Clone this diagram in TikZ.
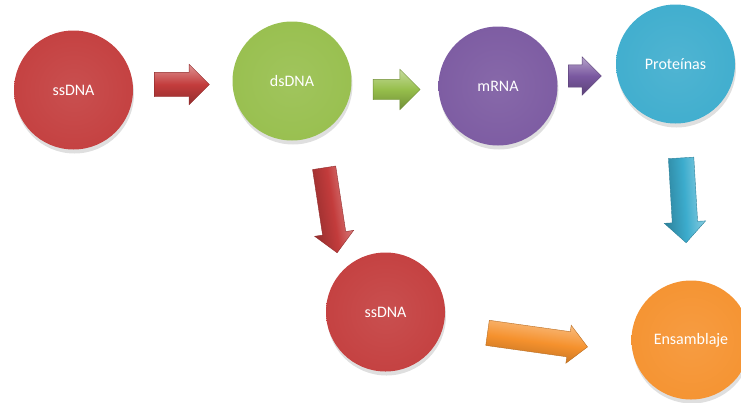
\documentclass[tikz,border=0pt]{standalone}
\usepackage{fontspec}
\setmainfont{Carlito}
\usetikzlibrary{shapes.arrows, shadows, calc}

\definecolor{dnared}{RGB}{195,60,60}
\definecolor{dnagreen}{RGB}{150,190,75}
\definecolor{rnapurple}{RGB}{122,88,160}
\definecolor{protcyan}{RGB}{60,172,205}
\definecolor{ensorange}{RGB}{245,145,45}
\colorlet{ballcol}{dnared}

% flat ball with a darker rim
\pgfdeclareradialshading[ballcol]{ball}{\pgfpoint{0bp}{0bp}}{%
  color(0bp)=(ballcol!90!white); color(25bp)=(ballcol!97!white);
  color(41bp)=(ballcol); color(47bp)=(ballcol!82!black);
  color(50bp)=(ballcol!55!black)}

\begin{document}
\begin{tikzpicture}[
            x = 1pt, y = -1pt, % pixel grid of the sketch
            ball/.style = {
                circle,
                inner sep = 0pt,
                minimum size = 119pt,
                shading = ball,
                text = white,
                font = \fontsize{16}{19}\selectfont,
                drop shadow = {shadow xshift=1pt, shadow yshift=-4pt, opacity=.25}
            },
            ballcolour/.style = {/utils/exec = {\colorlet{ballcol}{#1}}},
            blockarrow/.style = {
                single arrow,
                single arrow head indent = 0pt,
                single arrow head extend = 8pt,
                inner xsep = 0pt,
                inner ysep = 11.5pt,
                top color = #1!55!white,
                bottom color = #1!75!black,
                middle color = #1,
                draw = #1!75!black,
                thin
            }
        ]

        \useasboundingbox (0,0) rectangle (741,402);

        \node[ball, ballcolour=dnared] (ssdna) at (73.5,90) {ssDNA};
        \node[ball, ballcolour=dnagreen] (dsdna) at (292,81) {dsDNA};
        \node[ball, ballcolour=rnapurple] (mrna) at (498,86) {mRNA};
        \node[ball, ballcolour=protcyan] (prot) at (675.5,64) {Proteínas};
        \node[ball, ballcolour=dnared] (ssdnab) at (385.5,312) {ssDNA};
        \node[ball, ballcolour=ensorange] (ens) at (691,340) {Ensamblaje};

        \node[blockarrow=dnared, minimum height=55pt, inner ysep=12pt]
            (a) at ($(ssdna)!.5!(dsdna)+(-7,-1)$) {};
        \node[blockarrow=dnagreen, minimum height=47pt, inner ysep=10pt,
            single arrow head extend=10pt]
            (b) at ($(dsdna)!.5!(mrna)+(-3.5,6)$) {};
        \node[blockarrow=rnapurple, minimum height=33pt, inner ysep=11pt]
            (c) at ($(mrna)!.5!(prot)+(-7.5,1)$) {};
        \node[blockarrow=protcyan, minimum height=85pt, inner ysep=12.5pt,
            rotate=-86.6, shading angle=-86.6]
            (d) at ($(prot)!.5!(ens)+(0,-8)$) {};
        \node[blockarrow=dnared, minimum height=86pt,
            rotate=-81.3, shading angle=-81.3]
            (e) at ($(dsdna)!.5!(ssdnab)+(-9,8)$) {};
        \node[blockarrow=ensorange, minimum height=101pt, inner ysep=12.5pt,
            single arrow head extend=6.5pt, rotate=-8, shading angle=-8]
            (f) at ($(ssdnab)!.5!(ens)+(-7,13)$) {};

    \end{tikzpicture}
\end{document}
